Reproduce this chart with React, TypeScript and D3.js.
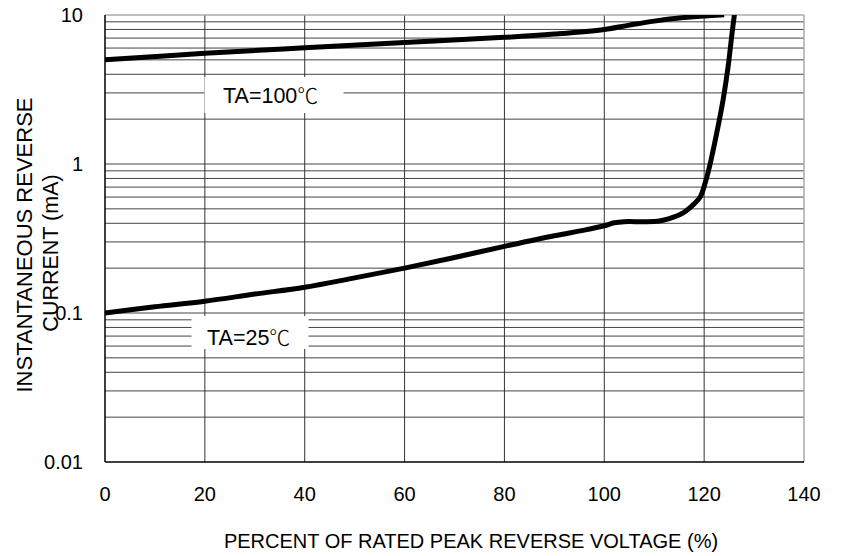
import React from "react";
import * as d3 from "d3";

const xTicks = [0, 20, 40, 60, 80, 100, 120, 140];
const yTicks = [0.01, 0.1, 1, 10];
const yTickLabels = ["0.01", "0.1", "1", "10"];

const hotX = [0, 20, 40, 60, 80, 90, 100, 105, 110, 115, 120, 124];
const hotY = [5.0, 5.53, 6.03, 6.55, 7.08, 7.45, 8.0, 8.55, 9.1, 9.55, 9.85, 10.05];

const coldX = [0, 10, 20, 30, 40, 50, 60, 70, 80, 90, 96, 100, 102, 104, 108, 111, 113, 115.8, 118, 119.2, 120.2, 121.2, 122.5, 123.8, 124.8, 125.6, 126.1];
const coldY = [0.1, 0.11, 0.12, 0.134, 0.149, 0.172, 0.2, 0.236, 0.28, 0.33, 0.36, 0.385, 0.403, 0.41, 0.41, 0.415, 0.43, 0.47, 0.54, 0.6, 0.745, 1.0, 1.6, 2.7, 4.5, 7.6, 10.3];

const labelHot = "TA=100";
const labelCold = "TA=25";
const degSign = "\u2103";
const xTitle = "PERCENT OF RATED PEAK REVERSE VOLTAGE (%)";
const yTitle1 = "INSTANTANEOUS REVERSE";
const yTitle2 = "CURRENT (mA)";

const W = 846;
const H = 556;
const L = 105, R = 804, T = 15, B = 462;
const FONT = "'Liberation Sans', Arial, sans-serif";
const CJK = "'Noto Sans CJK SC', 'Noto Sans CJK JP', sans-serif";

export default function App() {
  const x = d3.scaleLinear().domain([0, 140]).range([L, R]);
  const y = d3.scaleLog().domain([0.01, 10]).range([B, T]);

  const hGrid: number[] = [];
  for (const dec of [0.01, 0.1, 1]) {
    for (let k = 1; k <= 9; k++) hGrid.push(dec * k);
  }

  const line = d3
    .line<[number, number]>()
    .x((d) => x(d[0]))
    .y((d) => y(d[1]))
    .curve(d3.curveCatmullRom.alpha(0.5));

  const hot = line(hotX.map((v, i) => [v, hotY[i]] as [number, number])) || "";
  const cold = line(coldX.map((v, i) => [v, coldY[i]] as [number, number])) || "";

  return (
    <svg width={W} height={H} style={{ position: "absolute", left: 0, top: 0, background: "#fff" }} fontFamily={FONT}>
      <defs>
        <clipPath id="plot">
          <rect x={L} y={T} width={R - L} height={B - T} />
        </clipPath>
      </defs>
      {hGrid.slice(1).map((v, i) => (
        <line key={"h" + i} x1={L} x2={R} y1={y(v)} y2={y(v)} stroke="#444" strokeWidth={1} />
      ))}
      {xTicks.slice(1, -1).map((v) => (
        <line key={"v" + v} x1={x(v)} x2={x(v)} y1={T} y2={B} stroke="#333" strokeWidth={1} />
      ))}
      <line x1={L} x2={R} y1={T} y2={T} stroke="#aaa" strokeWidth={1.5} />
      <line x1={R} x2={R} y1={T} y2={B} stroke="#aaa" strokeWidth={1.5} />
      <line x1={L} x2={L} y1={T} y2={B} stroke="#000" strokeWidth={1.5} />
      <line x1={L} x2={R} y1={B} y2={B} stroke="#000" strokeWidth={1.5} />

      <rect x={204.5} y={77} width={139} height={36} fill="#fff" />
      <rect x={191.5} y={316} width={117} height={33} fill="#fff" />
      <text x={223} y={103} fontSize={21.5} fill="#000">
        {labelHot}
        <tspan fontFamily={CJK} fontWeight={300} fontSize={21}>{degSign}</tspan>
      </text>
      <text x={207} y={345} fontSize={21.5} fill="#000">
        {labelCold}
        <tspan fontFamily={CJK} fontWeight={300} fontSize={21}>{degSign}</tspan>
      </text>

      <g clipPath="url(#plot)">
        <path d={hot} fill="none" stroke="#000" strokeWidth={5} />
        <path d={cold} fill="none" stroke="#000" strokeWidth={5} />
      </g>

      {yTicks.map((v, i) => (
        <text key={"yt" + v} x={83} y={y(v)} dy="0.35em" textAnchor="end" fontSize={20} fill="#000">
          {yTickLabels[i]}
        </text>
      ))}
      {xTicks.map((v) => (
        <text key={"xt" + v} x={x(v)} y={501} textAnchor="middle" fontSize={20} fill="#000">
          {v}
        </text>
      ))}
      <text x={471} y={548} textAnchor="middle" fontSize={20} fill="#000">{xTitle}</text>
      <text transform="translate(32,245) rotate(-90)" textAnchor="middle" fontSize={22} fill="#000">{yTitle1}</text>
      <text transform="translate(58,253) rotate(-90)" textAnchor="middle" fontSize={21.5} fill="#000">{yTitle2}</text>
    </svg>
  );
}
